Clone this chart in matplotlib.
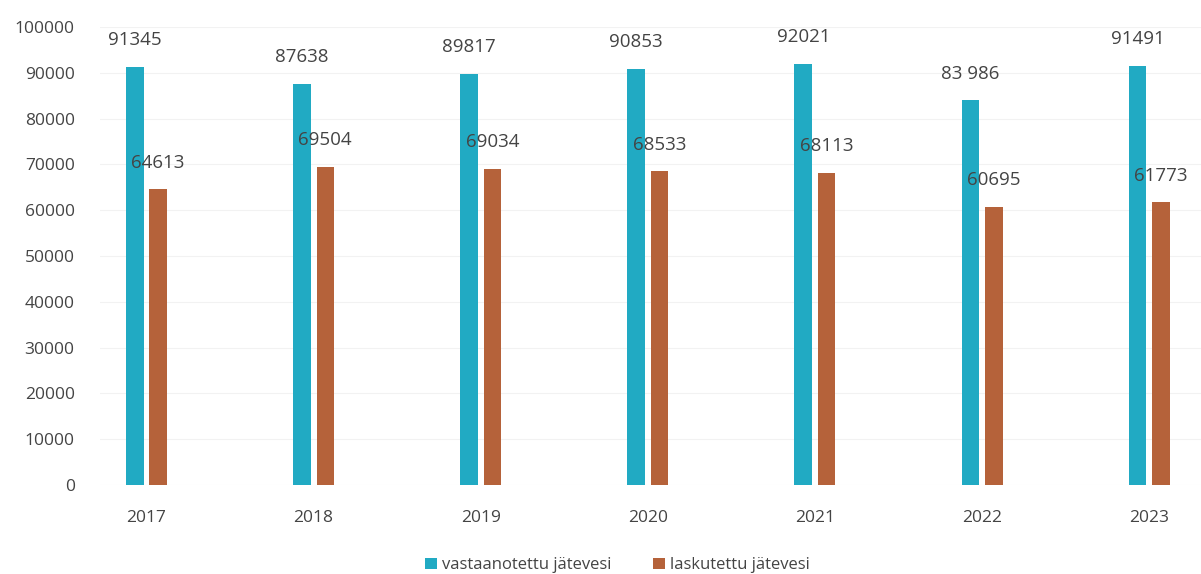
import numpy as np
import matplotlib.pyplot as plt

years = ['2017', '2018', '2019', '2020', '2021', '2022', '2023']
vastaanotettu = [91345, 87638, 89817, 90853, 92021, 83986, 91491]
laskutettu = [64613, 69504, 69034, 68533, 68113, 60695, 61773]
vast_labels = ['91345', '87638', '89817', '90853', '92021', '83 986', '91491']
lask_labels = ['64613', '69504', '69034', '68533', '68113', '60695', '61773']

plt.rcParams['font.family'] = ['Open Sans', 'DejaVu Sans']
text_color = '#444444'
blue = '#21aac3'
brown = '#b5623a'

fig = plt.figure(figsize=(12.01, 5.74), dpi=100)
ax = fig.add_axes([0.083, 0.155, 0.917, 0.798])

x = np.arange(len(years))
w = 0.105
ax.bar(x - 0.07, vastaanotettu, w, color=blue, label='vastaanotettu jätevesi')
ax.bar(x + 0.07, laskutettu, w, color=brown, label='laskutettu jätevesi')

# value labels sit a little above the bar tops
for i in range(len(years)):
    ax.text(x[i] - 0.07, vastaanotettu[i] + 5800, vast_labels[i], ha='center', va='center',
            fontsize=13.5, color=text_color)
    ax.text(x[i] + 0.07, laskutettu[i] + 5800, lask_labels[i], ha='center', va='center',
            fontsize=13.5, color=text_color)

ax.set_xlim(-0.28, 6.31)
ax.set_ylim(0, 100000)
ax.set_yticks(np.arange(0, 100001, 10000))
ax.set_xticks(x)
ax.set_xticklabels(years)
ax.tick_params(axis='both', length=0, labelsize=12.5, colors=text_color)
ax.tick_params(axis='x', pad=18)
ax.tick_params(axis='y', pad=18)
ax.grid(axis='y', color='#f2f2f2', linewidth=0.8)
ax.set_axisbelow(True)
for s in ax.spines.values():
    s.set_visible(False)

ax.legend(loc='upper center', bbox_to_anchor=(0.47, -0.125), ncol=2, frameon=False,
          fontsize=12, handlelength=0.7, handleheight=0.7, handletextpad=0.3,
          columnspacing=2.5, labelcolor=text_color)

fig.savefig('out.png', dpi=100)
